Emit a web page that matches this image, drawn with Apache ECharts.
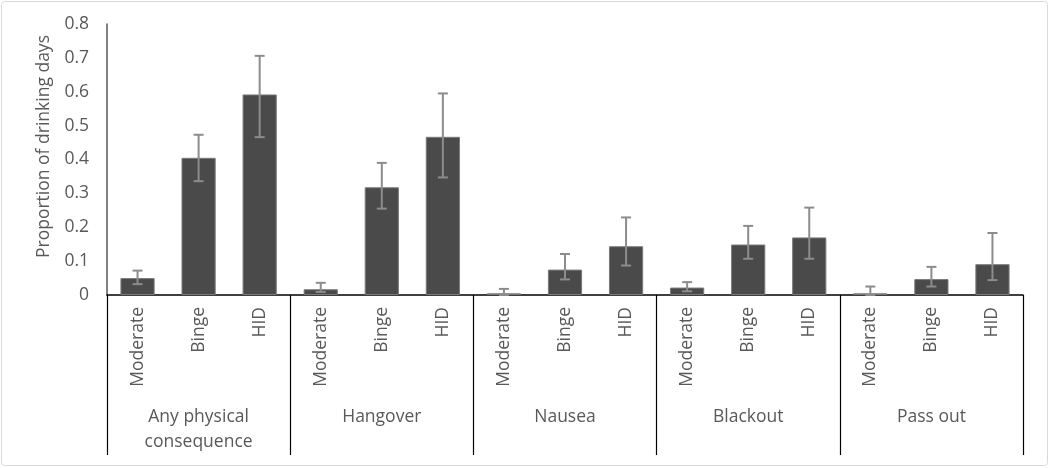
<!DOCTYPE html>
<html><head><meta charset="utf-8">
<script src="https://cdn.jsdelivr.net/npm/echarts@6/dist/echarts.min.js"></script>
<style>html,body{margin:0;padding:0;background:#fff}#c{width:1050px;height:468px}</style>
</head><body><div id="c"></div>
<script>
const groups = ['Any physical\nconsequence', 'Hangover', 'Nausea', 'Blackout', 'Pass out'];
const levels = ['Moderate', 'Binge', 'HID'];
const values = [0.05, 0.405, 0.592, 0.017, 0.318, 0.467, 0.005, 0.075, 0.144, 0.022, 0.149, 0.170, 0.005, 0.047, 0.091];
const errLow = [0.032, 0.336, 0.466, 0.009, 0.255, 0.347, 0.0, 0.046, 0.087, 0.011, 0.107, 0.107, 0.0, 0.025, 0.044];
const errHigh = [0.072, 0.473, 0.706, 0.036, 0.390, 0.595, 0.018, 0.121, 0.229, 0.038, 0.204, 0.258, 0.025, 0.083, 0.183];
const yTicks = [0, 0.1, 0.2, 0.3, 0.4, 0.5, 0.6, 0.7, 0.8];

const cats = [];
groups.forEach(() => levels.forEach(l => cats.push(l)));
const errData = values.map((v, i) => [i, errLow[i], errHigh[i]]);
const FONT = 'Open Sans';

const chart = echarts.init(document.getElementById('c'));
chart.setOption({
  animation: false,
  graphic: [{type: 'rect', shape: {x: 1.5, y: 1.5, width: 1046, height: 464, r: 3}, style: {fill: 'none', stroke: '#d9d9d9', lineWidth: 1}}],
  grid: {left: 107, right: 27, top: 24, bottom: 173},
  xAxis: [{
    type: 'category', data: cats,
    axisLine: {lineStyle: {color: '#000', width: 1.5}},
    axisTick: {show: false},
    axisLabel: {rotate: 90, margin: 12, color: '#595959', fontFamily: FONT, fontSize: 17.5, interval: 0}
  }, {
    type: 'category', data: groups, position: 'bottom',
    axisLine: {show: false},
    axisTick: {show: true, length: 160, lineStyle: {color: '#000', width: 1.2}},
    axisLabel: {margin: 110, verticalAlign: 'top', color: '#595959', fontFamily: FONT, fontSize: 17.5, lineHeight: 25, interval: 0}
  }],
  yAxis: {
    type: 'value', min: 0, max: 0.8, interval: 0.1,
    name: 'Proportion of drinking days', nameLocation: 'middle', nameGap: 53,
    nameTextStyle: {color: '#595959', fontFamily: FONT, fontSize: 17.5, padding: [0, 0, 0, 26]},
    axisLine: {show: true, lineStyle: {color: '#595959', width: 1.5}},
    axisTick: {show: false},
    splitLine: {show: false},
    axisLabel: {margin: 18, color: '#595959', fontFamily: FONT, fontSize: 17.5,
      formatter: v => yTicks.includes(Math.round(v * 10) / 10) ? String(Math.round(v * 10) / 10) : ''}
  },
  series: [{
    type: 'bar', data: values, barWidth: '56%', xAxisIndex: 0,
    itemStyle: {color: '#4a4a4a', borderColor: '#7a7a7a', borderWidth: 1}
  }, {
    type: 'custom', xAxisIndex: 0, data: errData, z: 5,
    renderItem: (params, api) => {
      const lo = api.coord([api.value(0), api.value(1)]);
      const hi = api.coord([api.value(0), api.value(2)]);
      const w = 5;
      const st = {stroke: '#8c8c8c', lineWidth: 2};
      return {type: 'group', children: [
        {type: 'line', shape: {x1: hi[0], y1: hi[1], x2: lo[0], y2: lo[1]}, style: st},
        {type: 'line', shape: {x1: hi[0] - w, y1: hi[1], x2: hi[0] + w, y2: hi[1]}, style: st},
        {type: 'line', shape: {x1: lo[0] - w, y1: lo[1], x2: lo[0] + w, y2: lo[1]}, style: st}
      ]};
    }
  }]
});
</script></body></html>
